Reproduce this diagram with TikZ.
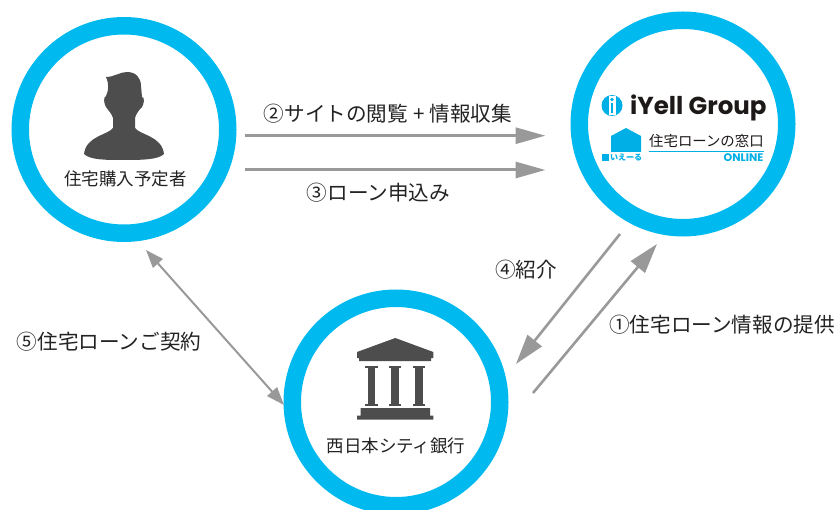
\documentclass[tikz,border=0pt]{standalone}
\usepackage{fontspec}
\setmainfont{Noto Sans CJK JP}
\newfontfamily\logofont{Poppins}
\usepackage{xcolor}
\usetikzlibrary{arrows.meta,positioning}
\definecolor{ringblue}{RGB}{0,185,239}
\definecolor{icongray}{RGB}{77,77,77}
\definecolor{arrowgray}{RGB}{153,153,153}
\definecolor{textgray}{RGB}{35,35,35}
\definecolor{logoblack}{RGB}{30,25,25}
\definecolor{logoblue}{RGB}{0,175,230}
\tikzstyle{ring} = [circle, draw=ringblue, fill=white, line width=17.5pt, inner sep=0pt, minimum size=207.5pt]
\tikzstyle{caption} = [text=textgray, font=\fontsize{17.5}{20}\selectfont, inner sep=0pt]
\tikzstyle{steplabel} = [text=textgray, font=\fontsize{20.6}{24}\selectfont, inner sep=0pt]
\tikzstyle{arrow} = [line width=3pt, color=arrowgray, -{Triangle[length=30pt,width=16pt]}]
\tikzstyle{slant} = [line width=2.6pt, color=arrowgray, -{Triangle[length=30pt,width=18pt]}]
\tikzstyle{twoway} = [line width=2pt, color=arrowgray, {Triangle[length=18pt,width=13pt]}-{Triangle[length=18pt,width=13pt]}]

\begin{document}
\begin{tikzpicture}[x=1pt, y=-1pt]
\useasboundingbox[clip] (0,0) rectangle (837,510);
% Rings
\node (buyer) [ring] at (124,129.5) {};
\node (ygroup) [ring] at (683,124) {};
\node (bank) [ring] at (396,402) {};

% Person
\fill[icongray] (106,77) .. controls (114,77) and (120,72) .. (127,72)
  .. controls (136,72) and (141,78) .. (141,86) -- (142,97)
  .. controls (145,97) and (144,104) .. (142,107)
  .. controls (139,110) and (136,114) .. (135,118) -- (135,128)
  .. controls (140,135) and (162,136) .. (164,154)
  .. controls (158,160) and (140,160) .. (123,160)
  .. controls (106,160) and (90,160) .. (84,154)
  .. controls (86,136) and (108,135) .. (113,128) -- (113,118)
  .. controls (112,114) and (108,110) .. (106,107)
  .. controls (104,104) and (103,97) .. (106,96)
  .. controls (109,90) and (109,84) .. (106,77) -- cycle;
\node (buyertext) [caption] at (125.5,179) {住宅購入予定者};

% Bank
\fill[icongray] (395.3,338) -- (433.3,352) -- (433.3,358) -- (431,358) -- (431,361) -- (359,361) -- (359,358) -- (357,358) -- (357,352) -- cycle;
\foreach \colx in {371.3,395,419} {
  \fill[icongray] (\colx-3.7,366) rectangle (\colx+3.7,406);
  \fill[icongray] (\colx-6.2,365.5) rectangle (\colx+6.2,368);
  \fill[icongray] (\colx-6.2,403.5) rectangle (\colx+6.2,406);
}
\fill[icongray] (360.7,408) -- (430,408) -- (430,415.5) -- (433.3,415.5) -- (433.3,419.5) -- (357,419.5) -- (357,415.5) -- (360.7,415.5) -- cycle;
\node (banktext) [caption] at (396,446) {西日本シティ銀行};

% Logo
\fill[logoblue] (612,105.5) circle (10.5);
\fill[white] (608.5,96) rectangle (615.5,115);
\fill[logoblue] (610.7,103) rectangle (613.3,113);
\fill[logoblue] (612,99.5) circle (1.9);
\node (iyell) [anchor=base west, inner sep=0pt, text=logoblack, font=\logofont\bfseries\fontsize{24.5}{26}\selectfont] at (630,115) {iYell Group};
\fill[logoblue] (626,128) -- (641,136) -- (641,152) -- (611,152) -- (611,136) -- cycle;
\fill[logoblue] (602,154) rectangle (609,161);
\node (iyellkana) [anchor=west, inner sep=0pt, text=logoblue, font=\bfseries\fontsize{8}{9}\selectfont] at (610,157.5) {いえーる};
\node (madoguchi) [anchor=base west, inner sep=0pt, text=logoblack, font=\fontsize{14.4}{16}\selectfont] at (649,147) {住宅ローンの窓口};
\fill[logoblue] (649,151) rectangle (764,152);
\node (online) [anchor=base east, inner sep=0pt, text=logoblue, font=\logofont\bfseries\fontsize{11}{12}\selectfont] at (763.5,161.5) {ONLINE};

% Arrow ends
\coordinate (topA) at (245,135.7);
\coordinate (topB) at (545.5,135.7);
\coordinate (midA) at (245,170);
\coordinate (midB) at (545.5,170);
\coordinate (downA) at (620,234);
\coordinate (downB) at (516,364);
\coordinate (upA) at (533,393);
\coordinate (upB) at (657,244);
\coordinate (sideA) at (146,250);
\coordinate (sideB) at (284,405);

% Arrows
\draw[arrow] (topA) -- (topB);
\draw[arrow] (midA) -- (midB);
\draw[slant] (downA) -- (downB);
\draw[slant] (upA) -- (upB);
\draw[twoway] (sideA) -- (sideB);

% Labels
\node (step2) [steplabel] at (388,114) {②サイトの閲覧\hspace{5pt}+\hspace{5pt}情報収集};
\node (step3) [steplabel] at (378.5,193) {③ローン申込み};
\node (step4) [steplabel] at (526,270) {④紹介};
\node (step1) [steplabel] at (722,325) {①住宅ローン情報の提供};
\node (step5) [steplabel] at (109,342) {⑤住宅ローンご契約};
\end{tikzpicture}
\end{document}
